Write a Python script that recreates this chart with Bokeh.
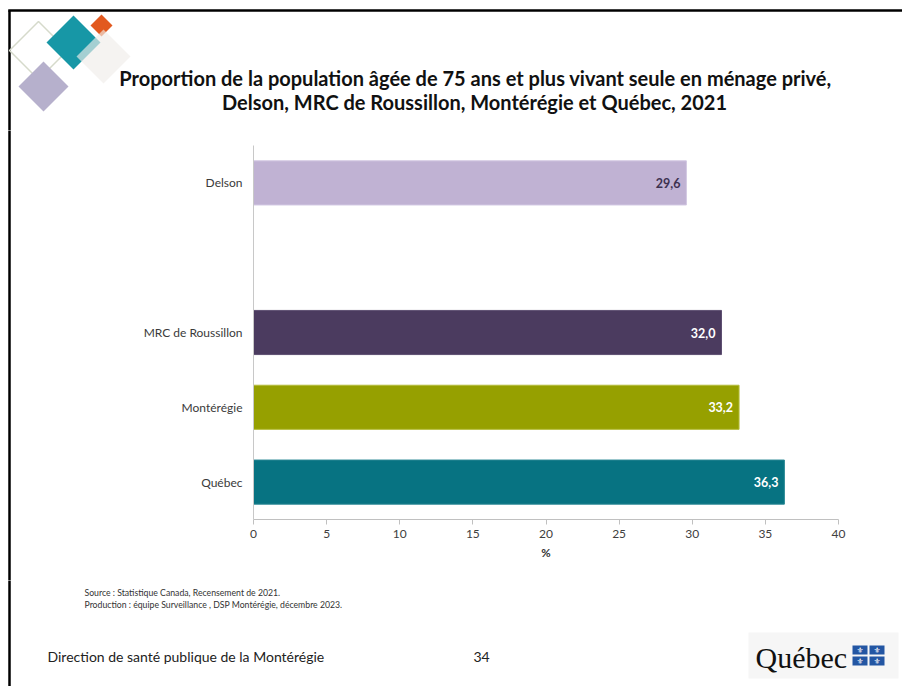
from bokeh.plotting import figure
from bokeh.models import ColumnDataSource, FactorRange, Range1d, LabelSet, FixedTicker
from bokeh.layouts import column, row
from bokeh.core.properties import value
from bokeh.embed import file_html
from bokeh.resources import INLINE

# ---- data ----
categories = ["Delson", "MRC de Roussillon", "Montérégie", "Québec"]
values = [29.6, 32.0, 33.2, 36.3]
bar_colors = ["#c0b2d3", "#4b3b5f", "#96a000", "#077382"]
edge_colors = ["#d2c7e2", "#5e4f72", "#b4bc3a", "#2a8894"]
value_label_colors = ["#3d3150", "#ffffff", "#ffffff", "#ffffff"]
x_ticks = [0, 5, 10, 15, 20, 25, 30, 35, 40]
x_axis_title = "%"
title_lines = ["Proportion de la population âgée de 75 ans et plus vivant seule en ménage privé,",
               "Delson, MRC de Roussillon, Montérégie et Québec, 2021"]
source_note = "Source : Statistique Canada, Recensement de 2021."
production_note = "Production : équipe Surveillance , DSP Montérégie, décembre 2023."
footer_left = "Direction de santé publique de la Montérégie"
page_number = "34"
logo_text = "Québec"

spacer = " "
factors = list(reversed(categories[1:])) + [spacer, categories[0]]

src = ColumnDataSource(dict(
    cat=categories,
    val=values,
    color=bar_colors,
    edge=edge_colors,
    lab=[f"{v:.1f}".replace(".", ",") for v in values],
    labcol=value_label_colors,
))

W, H = 902, 686
FONT = "Lato"
TOP_H, MID_H = 130, 450
BOT_H = H - TOP_H - MID_H
STRIP_W = 20
BORDER = dict(line_color="#000000", line_width=2.5)


def no_align(f):
    try:
        f.frame_align = False
    except Exception:
        pass


def deco_figure(width, height, x0, x1, y0, y1):
    f = figure(width=width, height=height, x_range=Range1d(x0, x1), y_range=Range1d(y1, y0),
               output_backend="svg", toolbar_location=None,
               x_axis_location=None, y_axis_location=None,
               min_border=0, min_border_left=0, min_border_right=0,
               min_border_top=0, min_border_bottom=0)
    f.grid.visible = False
    f.outline_line_color = None
    f.background_fill_color = "white"
    f.border_fill_color = "white"
    no_align(f)
    return f


def diamonds(f, specs):
    xs, ys, fills, alphas, lines, lws = [], [], [], [], [], []
    for cx, cy, r, fill, alpha, line, lw in specs:
        xs.append([cx, cx + r, cx, cx - r])
        ys.append([cy - r, cy, cy + r, cy])
        fills.append(fill if fill else "white")
        alphas.append(alpha if fill else 0.0)
        lines.append(line if line else fill)
        lws.append(lw if line else 0.0)
    f.patches(xs=xs, ys=ys, fill_color=fills, fill_alpha=alphas, line_color=lines,
              line_width=lws)


# ---------- top: slide border, logo, title ----------
top = deco_figure(W, TOP_H, 0, W, 0, TOP_H)
top.segment(x0=[7.75, 9], y0=[10, 10], x1=[W + 5, 9], y1=[10, TOP_H + 5], **BORDER)
diamonds(top, [
    (38, 50, 29, None, 1.0, "#d5dacb", 1.5),
    (43, 86, 25, "#b6b0cc", 1.0, None, 0),
    (73, 42, 27, "#1797a6", 1.0, None, 0),
    (101, 25, 11, "#e2591f", 1.0, None, 0),
    (103, 56, 27, "#efecea", 0.65, None, 0),
])
top.text(x=[475, 474], y=[77, 101], text=title_lines, text_align="center",
         text_baseline="middle", text_font=value(FONT), text_font_style="bold",
         text_font_size="20px", text_color="#111111")

# ---------- middle: border strip + chart ----------
strip = deco_figure(STRIP_W, MID_H, 0, STRIP_W, TOP_H, TOP_H + MID_H)
strip.segment(x0=[9], y0=[TOP_H - 5], x1=[9], y1=[TOP_H + MID_H + 5], **BORDER)

p = figure(width=W - STRIP_W, height=MID_H, y_range=FactorRange(*factors), x_range=Range1d(0, 40),
           output_backend="svg", toolbar_location=None,
           min_border_left=253 - STRIP_W, min_border_right=64,
           min_border_top=145 - TOP_H, min_border_bottom=MID_H - (145 - TOP_H) - 374)
no_align(p)

p.hbar(y="cat", left=0, right="val", height=0.59, fill_color="color", line_color="edge",
       line_width=1, source=src)

p.add_layout(LabelSet(x="val", y="cat", text="lab", source=src, x_offset=-6,
                      text_align="right", text_baseline="middle",
                      text_font=value(FONT), text_font_style="bold",
                      text_font_size="12.5px", text_color="labcol"))

p.grid.visible = False
p.outline_line_color = None
p.background_fill_color = "white"
p.border_fill_color = "white"

xa = p.xaxis[0]
xa.ticker = FixedTicker(ticks=x_ticks)
xa.axis_label = x_axis_title
xa.axis_label_text_font = FONT
xa.axis_label_text_font_style = "bold"
xa.axis_label_text_font_size = "11.5px"
xa.axis_label_text_color = "#333333"
xa.axis_label_standoff = 5
xa.axis_line_color = "#c0c0c0"
xa.major_tick_line_color = "#c0c0c0"
xa.major_tick_out = 5
xa.major_tick_in = 0
xa.minor_tick_out = 0
xa.minor_tick_in = 0
xa.major_label_standoff = 5
xa.major_label_text_font = FONT
xa.major_label_text_font_size = "12px"
xa.major_label_text_color = "#404040"

ya = p.yaxis[0]
ya.axis_line_color = "#c8c8c8"
ya.major_tick_out = 0
ya.major_tick_in = 0
ya.minor_tick_out = 0
ya.major_label_standoff = 11
ya.major_label_text_font = FONT
ya.major_label_text_font_size = "12px"
ya.major_label_text_color = "#3a3a3a"
ya.major_label_overrides = {spacer: ""}

# ---------- bottom: notes, footer, Québec logo ----------
Y0 = TOP_H + MID_H
bot = deco_figure(W, BOT_H, 0, W, Y0, H)
bot.segment(x0=[9], y0=[Y0 - 5], x1=[9], y1=[H + 5], **BORDER)
bot.text(x=[84, 84], y=[592, 604], text=[source_note, production_note], text_align="left",
         text_baseline="middle", text_font=value(FONT), text_font_size="8.7px",
         text_color="#333333")
bot.text(x=[47, 473], y=[656, 656], text=[footer_left, page_number], text_align="left",
         text_baseline="middle", text_font=value(FONT), text_font_size="14px",
         text_color="#222222")
bot.quad(left=[748], right=[898], top=[632], bottom=[678], fill_color="#f6f6f6", line_color=None)
bot.text(x=[755], y=[657], text=[logo_text], text_align="left", text_baseline="middle",
         text_font=value("Liberation Serif"), text_font_size="30px", text_color="#111111")
fx = [852, 869, 852, 869]
fy = [645, 645, 656, 656]
bot.quad(left=fx, right=[a + 15 for a in fx], top=fy, bottom=[b + 9 for b in fy],
         fill_color="#2356a3", line_color=None)
bot.text(x=[a + 7.5 for a in fx], y=[b + 4.5 for b in fy], text=["⚜"] * 4,
         text_align="center", text_baseline="middle", text_font=value("DejaVu Sans"),
         text_font_size="8px", text_color="#ffffff")

layout = column(top, row(strip, p), bot)
open("out.html", "w").write(file_html(layout, INLINE))
